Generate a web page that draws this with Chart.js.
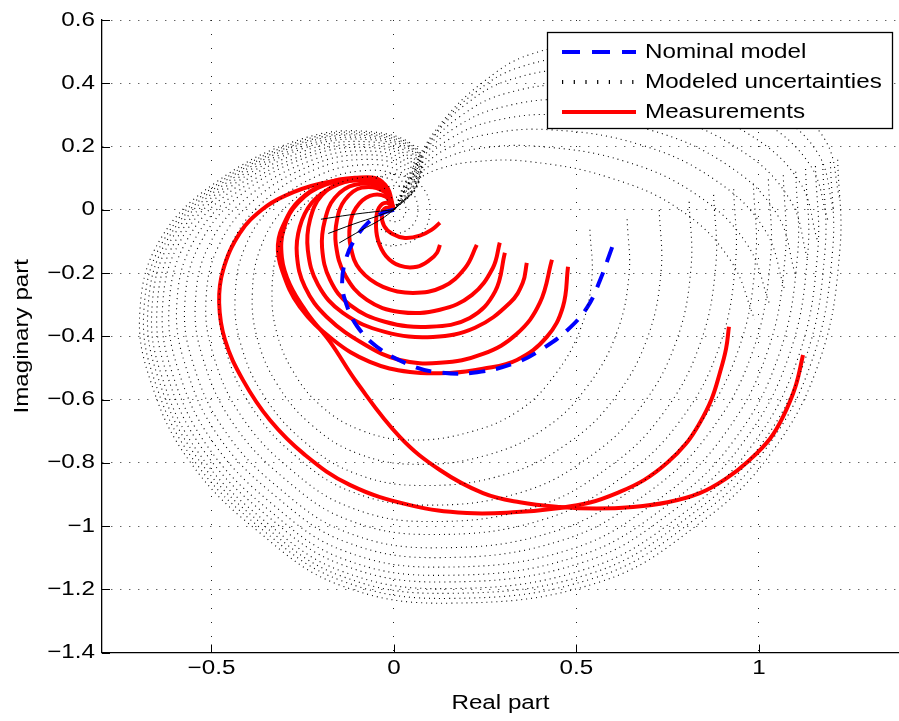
<!DOCTYPE html>
<html>
<head>
<meta charset="utf-8">
<title>Nyquist plot</title>
<script src="https://cdn.jsdelivr.net/npm/chart.js@4.4.0/dist/chart.umd.min.js"></script>
<style>
  html, body { margin: 0; padding: 0; background: #fff; }
  canvas { display: block; }
</style>
</head>
<body>
<canvas id="nyquist" width="899" height="721"></canvas>
<script>
// axis ticks
const xTicks = [-0.5, 0, 0.5, 1];
const yTicks = [-1.4, -1.2, -1, -0.8, -0.6, -0.4, -0.2, 0, 0.2, 0.4, 0.6];
const legendLabels = ["Nominal model", "Modeled uncertainties", "Measurements"];

// nominal model, [real, imag]
const nominal = [[0,0],[-0.03,-0.01],[-0.07,-0.04],[-0.105,-0.09],[-0.13,-0.15],[-0.142,-0.23],[-0.13,-0.3],[-0.1,-0.37],[-0.046,-0.434],[0.036,-0.487],[0.12,-0.514],[0.228,-0.514],[0.338,-0.482],[0.409,-0.438],[0.475,-0.381],[0.53,-0.308],[0.565,-0.222],[0.598,-0.118]];

// measurements
const meas1 = [[0,0],[-0.022,0.006],[-0.033,-0.016],[-0.027,-0.051],[-0.005,-0.076],[0.03,-0.089],[0.071,-0.082],[0.104,-0.063],[0.126,-0.041]];
const meas2 = [[0,0],[-0.019,0.022],[-0.041,0.006],[-0.049,-0.038],[-0.044,-0.095],[-0.022,-0.146],[0.016,-0.177],[0.063,-0.18],[0.099,-0.158],[0.118,-0.136],[0.126,-0.111]];
const meas3 = [[0,0],[-0.022,0.041],[-0.066,0.044],[-0.104,0.006],[-0.121,-0.051],[-0.118,-0.12],[-0.093,-0.19],[-0.03,-0.244],[0.052,-0.263],[0.134,-0.244],[0.195,-0.184],[0.227,-0.111]];
const meas4 = [[0,0],[-0.027,0.057],[-0.088,0.07],[-0.134,0.032],[-0.156,-0.032],[-0.159,-0.111],[-0.134,-0.206],[-0.074,-0.285],[0.016,-0.323],[0.126,-0.316],[0.214,-0.269],[0.271,-0.184],[0.29,-0.104]];
const meas5 = [[0,0],[-0.033,0.07],[-0.107,0.079],[-0.162,0.038],[-0.189,-0.032],[-0.197,-0.12],[-0.175,-0.222],[-0.121,-0.301],[-0.025,-0.354],[0.099,-0.37],[0.208,-0.342],[0.277,-0.259],[0.304,-0.136]];
const meas6 = [[0,0],[-0.038,0.076],[-0.134,0.089],[-0.197,0.047],[-0.23,-0.032],[-0.236,-0.127],[-0.208,-0.237],[-0.14,-0.326],[-0.025,-0.386],[0.107,-0.402],[0.222,-0.373],[0.318,-0.294],[0.353,-0.231],[0.364,-0.168]];
const meas7 = [[0,0],[-0.038,0.082],[-0.099,0.095],[-0.167,0.073],[-0.225,0.022],[-0.258,-0.054],[-0.266,-0.142],[-0.244,-0.244],[-0.184,-0.339],[-0.079,-0.427],[0.016,-0.475],[0.126,-0.484],[0.244,-0.456],[0.337,-0.392],[0.4,-0.294],[0.433,-0.158]];
const meas8 = [[0,0],[-0.033,0.089],[-0.107,0.101],[-0.189,0.082],[-0.258,0.032],[-0.299,-0.038],[-0.318,-0.111],[-0.307,-0.19],[-0.258,-0.307],[-0.167,-0.411],[-0.066,-0.481],[0.044,-0.513],[0.153,-0.516],[0.244,-0.503],[0.337,-0.475],[0.419,-0.402],[0.463,-0.307],[0.477,-0.18]];
const meas9 = [[0,0],[-0.03,0.079],[-0.093,0.095],[-0.189,0.079],[-0.263,0.022],[-0.301,-0.057],[-0.307,-0.152],[-0.285,-0.237],[-0.238,-0.326],[-0.175,-0.418],[-0.101,-0.547],[0.016,-0.718],[0.126,-0.823],[0.244,-0.896],[0.345,-0.925],[0.455,-0.94],[0.555,-0.945],[0.655,-0.94],[0.75,-0.925],[0.838,-0.896],[0.91,-0.85],[0.975,-0.791],[1.03,-0.725],[1.066,-0.655],[1.1,-0.56],[1.121,-0.459]];
const meas10 = [[0,0],[-0.025,0.079],[-0.093,0.098],[-0.203,0.082],[-0.299,0.044],[-0.362,0],[-0.422,-0.073],[-0.468,-0.19],[-0.479,-0.294],[-0.463,-0.411],[-0.414,-0.538],[-0.34,-0.665],[-0.244,-0.775],[-0.121,-0.87],[0.044,-0.934],[0.2,-0.959],[0.337,-0.956],[0.455,-0.943],[0.54,-0.925],[0.611,-0.896],[0.685,-0.855],[0.748,-0.801],[0.8,-0.74],[0.838,-0.674],[0.87,-0.6],[0.893,-0.516],[0.91,-0.44],[0.918,-0.37]];

// modeled uncertainties, outer to inner loops
const unc1 = [[1.216,0.158],[1.222,-0.127],[1.167,-0.475],[1.03,-0.775],[0.838,-0.991],[0.564,-1.177],[0.153,-1.244],[-0.148,-1.187],[-0.367,-1.022],[-0.559,-0.797],[-0.668,-0.538],[-0.696,-0.316],[-0.641,-0.095],[-0.49,0.085],[-0.258,0.222],[-0.066,0.247],[0.066,0.19],[0.066,0.079],[0,0]];
const unc2 = [[1.196,0.151],[1.202,-0.13],[1.147,-0.472],[1.012,-0.767],[0.823,-0.98],[0.553,-1.163],[0.15,-1.229],[-0.146,-1.172],[-0.362,-1.01],[-0.551,-0.788],[-0.658,-0.533],[-0.685,-0.314],[-0.631,-0.096],[-0.483,0.082],[-0.256,0.217],[-0.067,0.243],[0.064,0.187],[0.064,0.078],[0,0]];
const unc3 = [[1.175,0.145],[1.181,-0.133],[1.128,-0.469],[0.995,-0.76],[0.808,-0.97],[0.543,-1.149],[0.146,-1.213],[-0.145,-1.158],[-0.357,-0.998],[-0.542,-0.78],[-0.647,-0.529],[-0.674,-0.312],[-0.622,-0.097],[-0.477,0.079],[-0.254,0.212],[-0.068,0.238],[0.062,0.184],[0.063,0.077],[0,0]];
const unc4 = [[1.155,0.138],[1.161,-0.136],[1.108,-0.466],[0.977,-0.752],[0.794,-0.959],[0.532,-1.134],[0.143,-1.198],[-0.143,-1.143],[-0.352,-0.986],[-0.534,-0.771],[-0.637,-0.524],[-0.663,-0.31],[-0.612,-0.098],[-0.47,0.076],[-0.252,0.208],[-0.068,0.234],[0.06,0.181],[0.062,0.076],[0,0]];
const unc5 = [[1.128,0.129],[1.134,-0.139],[1.082,-0.463],[0.953,-0.742],[0.774,-0.944],[0.518,-1.115],[0.139,-1.177],[-0.141,-1.123],[-0.346,-0.969],[-0.523,-0.759],[-0.623,-0.517],[-0.649,-0.308],[-0.599,-0.099],[-0.462,0.072],[-0.249,0.201],[-0.07,0.228],[0.057,0.178],[0.06,0.075],[0,0]];
const unc6 = [[1.101,0.12],[1.106,-0.143],[1.055,-0.459],[0.93,-0.732],[0.754,-0.93],[0.503,-1.096],[0.134,-1.156],[-0.139,-1.104],[-0.339,-0.953],[-0.511,-0.748],[-0.609,-0.511],[-0.634,-0.305],[-0.586,-0.1],[-0.453,0.068],[-0.246,0.195],[-0.071,0.222],[0.054,0.174],[0.059,0.074],[0,0]];
const unc7 = [[1.067,0.109],[1.072,-0.148],[1.022,-0.454],[0.9,-0.719],[0.73,-0.912],[0.486,-1.073],[0.129,-1.13],[-0.136,-1.079],[-0.331,-0.933],[-0.497,-0.733],[-0.592,-0.503],[-0.616,-0.302],[-0.57,-0.102],[-0.442,0.063],[-0.243,0.187],[-0.072,0.215],[0.05,0.169],[0.056,0.072],[0,0]];
const unc8 = [[1.026,0.096],[1.032,-0.154],[0.983,-0.448],[0.865,-0.704],[0.7,-0.891],[0.464,-1.044],[0.122,-1.1],[-0.133,-1.05],[-0.321,-0.909],[-0.481,-0.716],[-0.571,-0.494],[-0.595,-0.298],[-0.551,-0.104],[-0.429,0.057],[-0.239,0.177],[-0.074,0.206],[0.046,0.163],[0.054,0.07],[0,0]];
const unc9 = [[0.985,0.083],[0.991,-0.159],[0.944,-0.443],[0.83,-0.689],[0.67,-0.869],[0.443,-1.016],[0.116,-1.069],[-0.129,-1.02],[-0.311,-0.884],[-0.464,-0.698],[-0.551,-0.484],[-0.573,-0.295],[-0.531,-0.106],[-0.416,0.051],[-0.235,0.168],[-0.075,0.197],[0.042,0.158],[0.051,0.068],[0,0]];
const unc10 = [[0.931,0.065],[0.936,-0.167],[0.891,-0.435],[0.783,-0.669],[0.631,-0.841],[0.414,-0.978],[0.107,-1.027],[-0.125,-0.981],[-0.298,-0.852],[-0.441,-0.675],[-0.523,-0.472],[-0.544,-0.29],[-0.505,-0.108],[-0.398,0.043],[-0.229,0.155],[-0.077,0.186],[0.036,0.15],[0.048,0.066],[0,0]];
const unc11 = [[0.876,0.047],[0.882,-0.175],[0.838,-0.427],[0.735,-0.648],[0.591,-0.812],[0.386,-0.94],[0.098,-0.986],[-0.12,-0.941],[-0.285,-0.819],[-0.419,-0.651],[-0.495,-0.459],[-0.515,-0.284],[-0.479,-0.111],[-0.38,0.034],[-0.223,0.142],[-0.08,0.174],[0.03,0.142],[0.044,0.063],[0,0]];
const unc12 = [[0.809,0.025],[0.814,-0.184],[0.773,-0.418],[0.677,-0.623],[0.542,-0.776],[0.35,-0.893],[0.088,-0.934],[-0.115,-0.892],[-0.269,-0.779],[-0.391,-0.622],[-0.461,-0.443],[-0.479,-0.278],[-0.447,-0.114],[-0.359,0.024],[-0.217,0.127],[-0.082,0.159],[0.023,0.133],[0.04,0.06],[0,0]];
const unc13 = [[0.727,-0.001],[0.732,-0.195],[0.694,-0.407],[0.606,-0.593],[0.483,-0.733],[0.308,-0.836],[0.075,-0.872],[-0.108,-0.833],[-0.249,-0.73],[-0.357,-0.587],[-0.42,-0.424],[-0.435,-0.271],[-0.408,-0.118],[-0.332,0.012],[-0.208,0.108],[-0.085,0.142],[0.015,0.122],[0.034,0.056],[0,0]];
const unc14 = [[0.639,-0.03],[0.644,-0.208],[0.609,-0.394],[0.529,-0.56],[0.419,-0.687],[0.261,-0.774],[0.06,-0.805],[-0.101,-0.77],[-0.228,-0.678],[-0.321,-0.55],[-0.375,-0.404],[-0.388,-0.262],[-0.366,-0.122],[-0.304,-0.001],[-0.199,0.087],[-0.089,0.123],[0.006,0.109],[0.029,0.052],[0,0]];
const unc15 = [[0.537,-0.063],[0.542,-0.222],[0.51,-0.38],[0.441,-0.522],[0.345,-0.633],[0.208,-0.703],[0.044,-0.728],[-0.093,-0.696],[-0.203,-0.617],[-0.279,-0.506],[-0.323,-0.38],[-0.334,-0.253],[-0.318,-0.127],[-0.271,-0.016],[-0.189,0.063],[-0.093,0.101],[-0.005,0.095],[0.022,0.047],[0,0]];
// upper right lobe
const fan1 = [[0,0],[0.049,0.127],[0.126,0.269],[0.236,0.396],[0.373,0.491],[0.564,0.522],[0.838,0.475],[1.058,0.348],[1.181,0.222],[1.222,0.032]];
const fan2 = [[0,0],[0.046,0.111],[0.115,0.245],[0.215,0.364],[0.345,0.451],[0.537,0.482],[0.811,0.435],[1.03,0.316],[1.16,0.182],[1.205,0]];
const fan3 = [[0,0],[0.044,0.095],[0.104,0.222],[0.195,0.332],[0.318,0.411],[0.51,0.443],[0.784,0.396],[1.003,0.285],[1.14,0.142],[1.189,-0.032]];
const fan4 = [[0,0],[0.041,0.087],[0.094,0.198],[0.181,0.295],[0.304,0.367],[0.496,0.395],[0.756,0.348],[0.975,0.237],[1.112,0.087],[1.16,-0.095]];
const fan5 = [[0,0],[0.038,0.079],[0.085,0.174],[0.167,0.259],[0.29,0.323],[0.482,0.348],[0.729,0.301],[0.948,0.19],[1.085,0.032],[1.134,-0.158]];
const fan6 = [[0,0],[0.034,0.071],[0.078,0.15],[0.153,0.224],[0.27,0.28],[0.454,0.3],[0.7,0.253],[0.913,0.142],[1.05,-0.015],[1.1,-0.205]];
const fan7 = [[0,0],[0.03,0.063],[0.071,0.127],[0.14,0.19],[0.249,0.237],[0.427,0.253],[0.674,0.206],[0.879,0.095],[1.016,-0.063],[1.071,-0.253]];
const fan8 = [[0,0],[0.027,0.055],[0.064,0.108],[0.129,0.158],[0.235,0.194],[0.4,0.2],[0.633,0.153],[0.83,0.047],[0.968,-0.11],[1.03,-0.3]];
const fan9 = [[0,0],[0.025,0.047],[0.058,0.089],[0.118,0.127],[0.222,0.152],[0.373,0.152],[0.592,0.101],[0.784,0],[0.921,-0.158],[0.989,-0.348]];
// rings round the origin
const ring1 = [[-0.02,0.03],[0,0.04],[0.022,0.032],[0.033,0],[0.022,-0.028],[0,-0.038],[-0.02,-0.03]];
const ring2 = [[-0.04,0.06],[0,0.076],[0.047,0.057],[0.066,0],[0.047,-0.054],[0,-0.076],[-0.04,-0.06]];
const ring3 = [[-0.05,0.1],[0,0.114],[0.07,0.082],[0.099,0],[0.07,-0.082],[0,-0.114],[-0.05,-0.1]];
// dense bundles near the origin (look solid)
const bundle1 = [[0,0],[-0.05,-0.006],[-0.12,-0.016],[-0.2,-0.03]];
const bundle2 = [[0,0],[-0.045,-0.02],[-0.11,-0.045],[-0.18,-0.075]];
const bundle3 = [[0,0],[-0.035,-0.03],[-0.09,-0.065],[-0.15,-0.105]];

const measurements = [meas1, meas2, meas3, meas4, meas5, meas6, meas7, meas8, meas9, meas10];
const uncertainties = [unc1, unc2, unc3, unc4, unc5, unc6, unc7, unc8, unc9, unc10, unc11, unc12, unc13, unc14, unc15,
    fan1, fan2, fan3, fan4, fan5, fan6, fan7, fan8, fan9, ring1, ring2, ring3];
const bundles = [bundle1, bundle2, bundle3];

const TEXT_STRETCH = 1.21;

function toPoints(arr) {
    return arr.map((p) => ({ x: p[0], y: p[1] }));
}

function fmtTick(v) {
    const r = Math.round(v * 10) / 10;
    return r < 0 ? "\u2212" + String(-r) : String(r);
}

// the original labels are set wider than Arial, stretch glyphs along the text direction
const stretchText = {
    id: "stretchText",
    beforeInit(chart) {
        const ctx = chart.ctx;
        const fill = ctx.fillText.bind(ctx);
        ctx.fillText = function (text, x, y) {
            ctx.save();
            ctx.translate(x, y);
            ctx.scale(TEXT_STRETCH, 1);
            fill(text, 0, 0);
            ctx.restore();
        };
    },
};

// matlab style ticks pointing into the plot
const inwardTicks = {
    id: "inwardTicks",
    afterDatasetsDraw(chart) {
        const { ctx, chartArea, scales } = chart;
        ctx.save();
        ctx.strokeStyle = "#000";
        ctx.lineWidth = 1;
        ctx.beginPath();
        xTicks.forEach((v) => {
            const px = Math.round(scales.x.getPixelForValue(v)) + 0.5;
            ctx.moveTo(px, chartArea.bottom);
            ctx.lineTo(px, chartArea.bottom - 8);
        });
        yTicks.forEach((v) => {
            const py = Math.round(scales.y.getPixelForValue(v)) + 0.5;
            ctx.moveTo(chartArea.left, py);
            ctx.lineTo(chartArea.left + 8, py);
        });
        ctx.stroke();
        ctx.restore();
    },
};

const boxLegend = {
    id: "boxLegend",
    afterDraw(chart) {
        const ctx = chart.ctx;
        const samples = [
            { color: "#0000ff", width: 4, dash: [18, 12] },
            { color: "#000000", width: 4, dash: [1.2, 10.5] },
            { color: "#ff0000", width: 4, dash: [] },
        ];
        ctx.save();
        ctx.fillStyle = "#fff";
        ctx.fillRect(547, 32, 346, 97);
        ctx.strokeStyle = "#000";
        ctx.lineWidth = 1.3;
        ctx.strokeRect(547.5, 32.5, 345, 96);
        legendLabels.forEach((text, i) => {
            const y = 52 + i * 30;
            const s = samples[i];
            ctx.beginPath();
            ctx.strokeStyle = s.color;
            ctx.lineWidth = s.width;
            ctx.setLineDash(s.dash);
            ctx.moveTo(562, y);
            ctx.lineTo(636, y);
            ctx.stroke();
            ctx.setLineDash([]);
            ctx.fillStyle = "#000";
            ctx.font = '20px "Liberation Sans", Arial, sans-serif';
            ctx.textAlign = "left";
            ctx.textBaseline = "middle";
            ctx.fillText(text, 645, y);
        });
        ctx.restore();
    },
};

document.addEventListener("DOMContentLoaded", function () {
    const datasets = [];

    measurements.forEach((c) => {
        datasets.push({
            label: "Measurements",
            data: toPoints(c),
            showLine: true,
            borderColor: "#ff0000",
            borderWidth: 4,
            pointRadius: 0,
            tension: 0.4,
            order: 3,
        });
    });

    datasets.push({
        label: "Nominal model",
        data: toPoints(nominal),
        showLine: true,
        borderColor: "#0000ff",
        borderWidth: 4,
        borderDash: [16, 11],
        pointRadius: 0,
        tension: 0.4,
        order: 2,
    });

    uncertainties.forEach((c) => {
        datasets.push({
            label: "Modeled uncertainties",
            data: toPoints(c),
            showLine: true,
            borderColor: "#000000",
            borderWidth: 1.1,
            borderDash: [1, 4],
            pointRadius: 0,
            tension: 0.4,
            order: 1,
        });
    });

    bundles.forEach((c) => {
        datasets.push({
            label: "Modeled uncertainties",
            data: toPoints(c),
            showLine: true,
            borderColor: "#000000",
            borderWidth: 1,
            pointRadius: 0,
            tension: 0.4,
            order: 1,
        });
    });

    const font = { family: '"Liberation Sans", Arial, sans-serif', size: 20 };

    const config = {
        type: "scatter",
        data: { datasets: datasets },
        options: {
            responsive: false,
            animation: false,
            devicePixelRatio: 1,
            layout: { padding: { top: 20, right: 0, bottom: 0, left: 0 } },
            plugins: {
                legend: { display: false },
                tooltip: { enabled: false },
            },
            scales: {
                x: {
                    type: "linear",
                    min: -0.8,
                    max: 1.384,
                    afterBuildTicks: (s) => {
                        s.ticks = xTicks.map((v) => ({ value: v }));
                    },
                    afterFit: (s) => {
                        s.height = 68.5;
                    },
                    grid: { color: "#222", lineWidth: 1, drawTicks: false },
                    border: { display: true, color: "#000", width: 1.3, dash: [1, 13] },
                    ticks: {
                        color: "#000",
                        font: font,
                        padding: 3.5,
                        maxRotation: 0,
                        autoSkip: false,
                        callback: fmtTick,
                    },
                    title: {
                        display: true,
                        text: "Real part",
                        color: "#000",
                        font: font,
                        padding: { top: 0, bottom: 6 },
                    },
                },
                y: {
                    type: "linear",
                    min: -1.4,
                    max: 0.6,
                    afterBuildTicks: (s) => {
                        s.ticks = yTicks.map((v) => ({ value: v }));
                    },
                    afterFit: (s) => {
                        s.width = 102;
                    },
                    grid: { color: "#222", lineWidth: 1, drawTicks: false },
                    border: { display: true, color: "#000", width: 1.3, dash: [1, 8] },
                    ticks: {
                        color: "#000",
                        font: font,
                        padding: 7,
                        autoSkip: false,
                        callback: fmtTick,
                    },
                    title: {
                        display: true,
                        text: "Imaginary part",
                        color: "#000",
                        font: font,
                        padding: { top: 10, bottom: 0 },
                    },
                },
            },
        },
        plugins: [stretchText, inwardTicks, boxLegend],
    };

    const el = document.getElementById("nyquist");
    if (el) {
        new Chart(el, config);
    }
});
</script>
</body>
</html>
